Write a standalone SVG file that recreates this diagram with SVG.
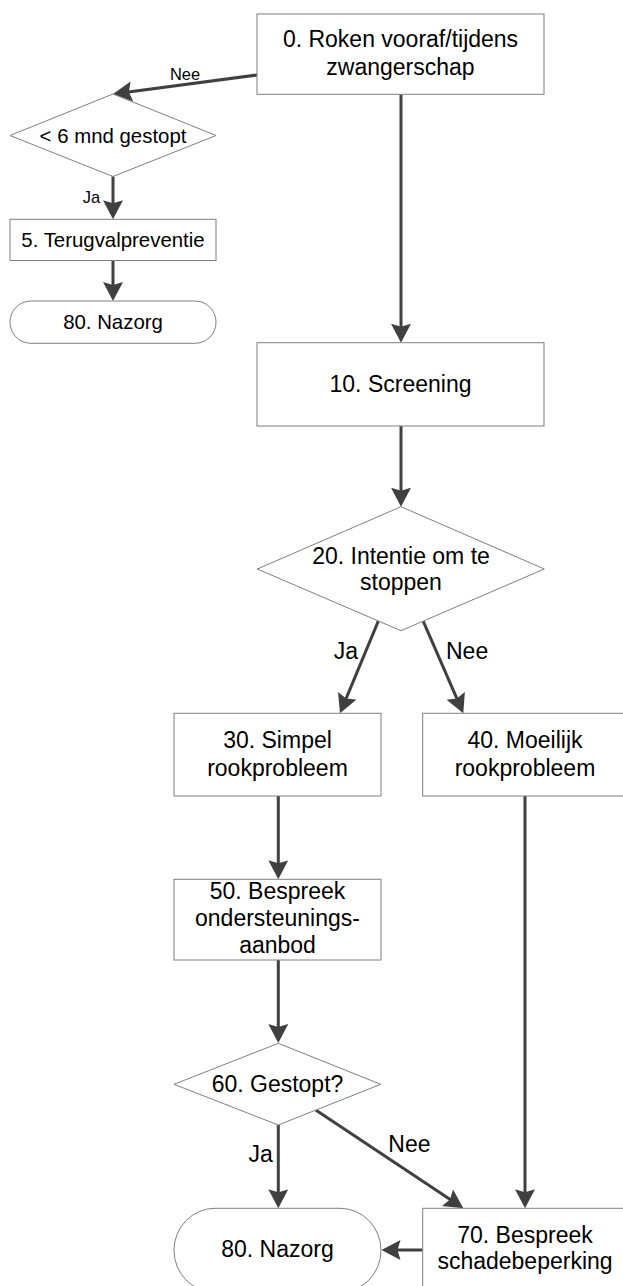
<svg xmlns="http://www.w3.org/2000/svg" width="623" height="1286" viewBox="0 0 623 1286">
<style>
.n{fill:#ffffff;stroke:#7f7f7f;stroke-width:1}
.t{font-family:"Liberation Sans",Arial,Helvetica,sans-serif;font-size:23px;fill:#000;text-anchor:middle}
.s{font-size:20.4px}
.l{font-family:"Liberation Sans",Arial,Helvetica,sans-serif;font-size:23px;fill:#000}
.ls{font-size:16.4px}
.c{fill:none;stroke:#404040;stroke-width:3;marker-end:url(#ah)}
</style>
<defs>
<marker id="ah" markerUnits="userSpaceOnUse" markerWidth="22" markerHeight="22" refX="15" refY="10" orient="auto">
<path d="M0,0 L19,10 L0,20 L3,10 z" fill="#404040"/>
</marker>
</defs>
<rect width="623" height="1286" fill="#ffffff"/>
<g id="connectors">
<path class="c" d="M401,94.5 L401,338.7"/>
<path class="c" d="M257,75 L117,93.5"/>
<path class="c" d="M113,176.5 L113,215.3"/>
<path class="c" d="M113,260.5 L113,297"/>
<path class="c" d="M401,426 L401,502.7"/>
<path class="c" d="M378.3,621.2 L341.5,709.6"/>
<path class="c" d="M423.3,621.4 L461.7,709.6"/>
<path class="c" d="M278.3,796 L278.3,875.3"/>
<path class="c" d="M278.3,960 L278.3,1039"/>
<path class="c" d="M278.3,1125 L278.3,1204.3"/>
<path class="c" d="M315.7,1110 L460,1206.1"/>
<path class="c" d="M525,796 L525,1204.3"/>
<path class="c" d="M422.7,1250 L385.5,1250"/>
<text class="l ls" x="185" y="80" text-anchor="middle">Nee</text>
<text class="l ls" x="100" y="203" text-anchor="end">Ja</text>
<text class="l" x="358" y="659.3" text-anchor="end">Ja</text>
<text class="l" x="446" y="659.3">Nee</text>
<text class="l" x="272.7" y="1161.7" text-anchor="end">Ja</text>
<text class="l" x="388.3" y="1152.3">Nee</text>
</g>
<g id="n0">
<rect class="n" x="257" y="14" width="287" height="80.3"/>
<text class="t" x="400.5" y="47">0. Roken vooraf/tijdens</text>
<text class="t" x="400.5" y="74.5">zwangerschap</text>
</g>
<g id="n1">
<polygon class="n" points="113,94 216,135.5 113,176.5 10,135.5"/>
<text class="t s" x="113" y="142.7">&lt; 6 mnd gestopt</text>
</g>
<g id="n5">
<rect class="n" x="10" y="219.3" width="206" height="41.2"/>
<text class="t s" x="113" y="246.5">5. Terugvalpreventie</text>
</g>
<g id="n80a">
<rect class="n" x="10" y="301" width="206" height="42.3" rx="21" ry="21"/>
<text class="t s" x="113" y="328.5">80. Nazorg</text>
</g>
<g id="n10">
<rect class="n" x="257" y="342.7" width="287" height="83.3"/>
<text class="t" x="400.5" y="391.7">10. Screening</text>
</g>
<g id="n20">
<polygon class="n" points="401,506.7 544.3,569 401,630.7 257.3,569"/>
<text class="t" x="401" y="563.5">20. Intentie om te</text>
<text class="t" x="401" y="589.5">stoppen</text>
</g>
<g id="n30">
<rect class="n" x="174" y="713.3" width="207" height="82.7"/>
<text class="t" x="277.5" y="748.3">30. Simpel</text>
<text class="t" x="277.5" y="776">rookprobleem</text>
</g>
<g id="n40">
<rect class="n" x="422.7" y="713.3" width="204.6" height="82.7"/>
<text class="t" x="525" y="748.3">40. Moeilijk</text>
<text class="t" x="525" y="776">rookprobleem</text>
</g>
<g id="n50">
<rect class="n" x="174" y="879.3" width="207" height="80.7"/>
<text class="t" x="277.5" y="899.3">50. Bespreek</text>
<text class="t" x="277.5" y="926.3">ondersteunings-</text>
<text class="t" x="277.5" y="953.3">aanbod</text>
</g>
<g id="n60">
<polygon class="n" points="278.3,1043.3 380.7,1084.3 278.3,1125 174,1084.3"/>
<text class="t" x="277.5" y="1091.7">60. Gestopt?</text>
</g>
<g id="n70">
<rect class="n" x="422.7" y="1208.3" width="204.6" height="83.4"/>
<text class="t" x="525" y="1242.7">70. Bespreek</text>
<text class="t" x="525" y="1268.5">schadebeperking</text>
</g>
<g id="n80b">
<rect class="n" x="174" y="1208.3" width="207" height="84" rx="41" ry="42"/>
<text class="t" x="277.5" y="1256.7">80. Nazorg</text>
</g>
</svg>
